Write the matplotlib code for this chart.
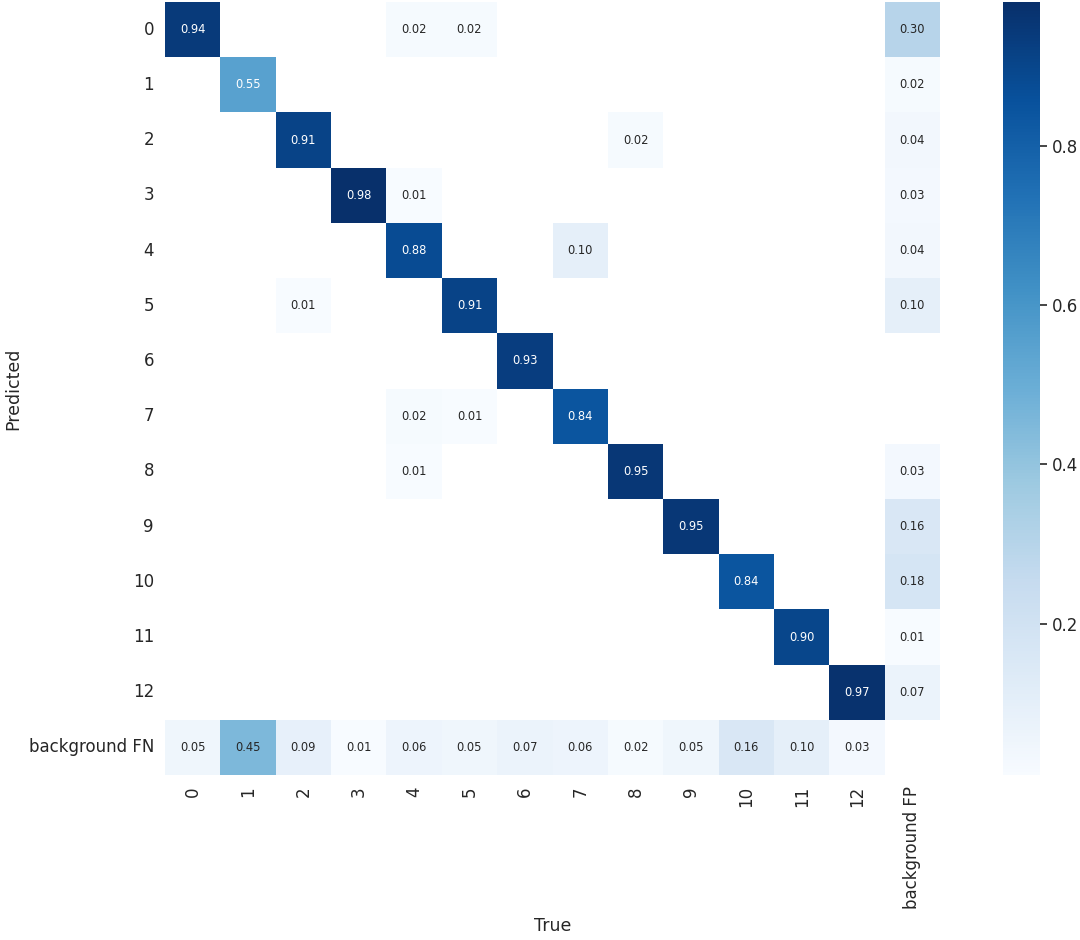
import numpy as np
import matplotlib
matplotlib.use("Agg")
import matplotlib.pyplot as plt
import seaborn as sns

nan = np.nan

# class names (rows = predicted, cols = true)
pred_labels = [str(i) for i in range(13)] + ['background FN']
true_labels = [str(i) for i in range(13)] + ['background FP']

# normalised confusion matrix, one row per predicted class
row_0  = [0.94, nan, nan, nan, 0.02, 0.02, nan, nan, nan, nan, nan, nan, nan, 0.30]
row_1  = [nan, 0.55, nan, nan, nan, nan, nan, nan, nan, nan, nan, nan, nan, 0.02]
row_2  = [nan, nan, 0.91, nan, nan, nan, nan, nan, 0.02, nan, nan, nan, nan, 0.04]
row_3  = [nan, nan, nan, 0.98, 0.01, nan, nan, nan, nan, nan, nan, nan, nan, 0.03]
row_4  = [nan, nan, nan, nan, 0.88, nan, nan, 0.10, nan, nan, nan, nan, nan, 0.04]
row_5  = [nan, nan, 0.01, nan, nan, 0.91, nan, nan, nan, nan, nan, nan, nan, 0.10]
row_6  = [nan, nan, nan, nan, nan, nan, 0.93, nan, nan, nan, nan, nan, nan, nan]
row_7  = [nan, nan, nan, nan, 0.02, 0.01, nan, 0.84, nan, nan, nan, nan, nan, nan]
row_8  = [nan, nan, nan, nan, 0.01, nan, nan, nan, 0.95, nan, nan, nan, nan, 0.03]
row_9  = [nan, nan, nan, nan, nan, nan, nan, nan, nan, 0.95, nan, nan, nan, 0.16]
row_10 = [nan, nan, nan, nan, nan, nan, nan, nan, nan, nan, 0.84, nan, nan, 0.18]
row_11 = [nan, nan, nan, nan, nan, nan, nan, nan, nan, nan, nan, 0.90, nan, 0.01]
row_12 = [nan, nan, nan, nan, nan, nan, nan, nan, nan, nan, nan, nan, 0.97, 0.07]
row_fn = [0.05, 0.45, 0.09, 0.01, 0.06, 0.05, 0.07, 0.06, 0.02, 0.05, 0.16, 0.10, 0.03, nan]

cm = np.array([row_0, row_1, row_2, row_3, row_4, row_5, row_6, row_7,
               row_8, row_9, row_10, row_11, row_12, row_fn])

fig = plt.figure(figsize=(10.8, 9.4), dpi=100)
fig.patch.set_facecolor('white')
ax = fig.add_axes([0.1528, 0.1755, 0.7176, 0.8223])
cax = fig.add_axes([0.9287, 0.1755, 0.034, 0.8223])

sns.heatmap(cm, ax=ax, cbar_ax=cax, cmap='Blues', annot=True, fmt='.2f',
            annot_kws={'size': 8.3}, xticklabels=true_labels,
            yticklabels=pred_labels)
ax.set_facecolor('white')

ax.tick_params(length=0, labelsize=12, colors='#262626', pad=8)
plt.setp(ax.get_xticklabels(), rotation=90)
plt.setp(ax.get_yticklabels(), rotation=0)
ax.set_xlabel('True', fontsize=12.5, color='#262626')
ax.set_ylabel('Predicted', fontsize=12.5, color='#262626')
ax.xaxis.set_label_coords(0.5, -0.184)
ax.yaxis.set_label_coords(-0.184, 0.5)

cax.tick_params(labelsize=12, colors='#262626', length=5, width=1.2)
cax.set_yticks([0.2, 0.4, 0.6, 0.8])
for s in cax.spines.values():
    s.set_visible(False)

fig.savefig('out.png', dpi=100, facecolor='white')
